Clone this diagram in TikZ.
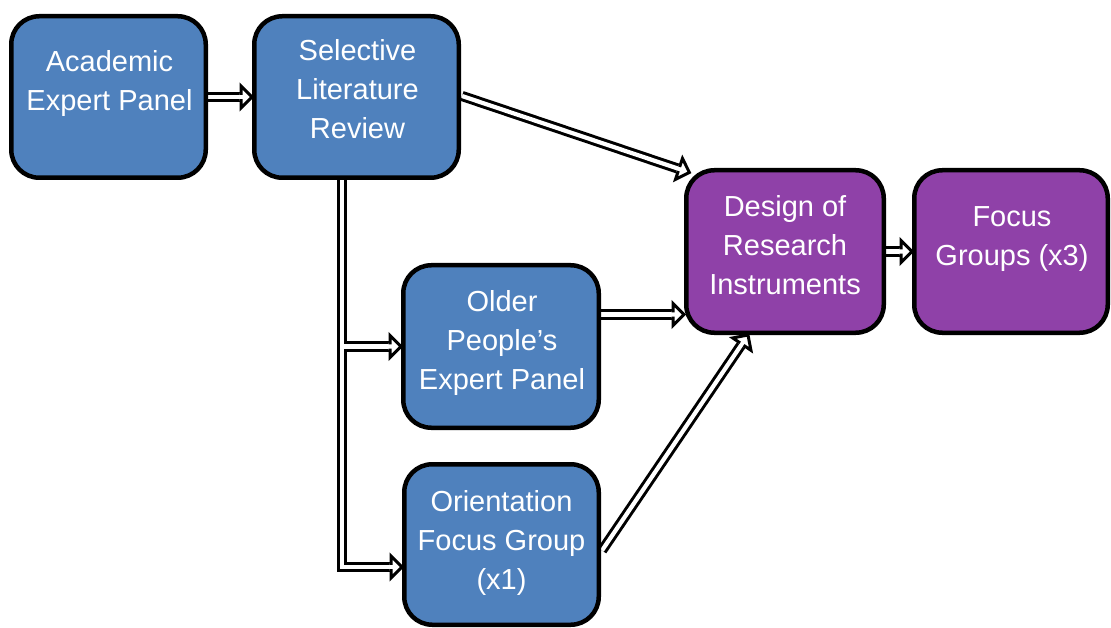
\documentclass[tikz,border=0pt]{standalone}
\usepackage{fontspec}
\setmainfont{Liberation Sans}
\usetikzlibrary{calc,backgrounds}
\definecolor{boxblue}{RGB}{79,129,189}
\definecolor{boxpurple}{RGB}{143,65,168}
\tikzset{
  box/.style={draw=black, line width=4.5pt, rounded corners=28pt, inner sep=0pt},
  bluebox/.style={box, fill=boxblue},
  purplebox/.style={box, fill=boxpurple},
  txt/.style={text=white, align=center, inner sep=0pt, font=\fontsize{29}{39}\selectfont},
  dblline/.style={draw=black, line width=3pt, double=white, double distance=4.2pt},
  headstyle/.style={draw=black, fill=white, line width=3pt, line join=miter},
}
% arrow head only: #1 = a point behind the tip on the shaft, #2 = tip
\newcommand{\ahead}[2]{%
  \coordinate (bp) at ($(#2)!11pt!(#1)$);
  \coordinate (bq) at ($(#2)!12.5pt!(#1)$);
  \filldraw[headstyle] ($(bq)!3.6pt!90:(#2)$) -- ($(bp)!3.6pt!90:(#2)$) -- ($(bp)!11pt!90:(#2)$) -- (#2) -- ($(bp)!11pt!-90:(#2)$) -- ($(bp)!3.6pt!-90:(#2)$) -- ($(bq)!3.6pt!-90:(#2)$);
}
% full block arrow from #1 to #2
\newcommand{\blockarrow}[2]{%
  \draw[dblline] (#1) -- ($(#2)!11pt!(#1)$);
  \ahead{#1}{#2}%
}
\begin{document}
\begin{tikzpicture}[x=1pt,y=-1pt]
\useasboundingbox (0,0) rectangle (1111,628);
% boxes
\node[bluebox, minimum width=194.5pt, minimum height=161.5pt] (aca) at (108.5,97) {};
\node[bluebox, minimum width=204.5pt, minimum height=161.5pt] (sel) at (356.5,97) {};
\node[purplebox, minimum width=197.5pt, minimum height=162.5pt] (des) at (785,251.5) {};
\node[purplebox, minimum width=193.5pt, minimum height=162.5pt] (foc) at (1011,251.5) {};
\node[bluebox, minimum width=195.5pt, minimum height=162.5pt] (old) at (501,346.5) {};
\node[bluebox, minimum width=194.5pt, minimum height=160.5pt] (ori) at (501.5,544.5) {};
% texts
\node[txt] (aca-t) at ($(aca)+(1,-13)$) {Academic\\Expert Panel};
\node[txt] (sel-t) at ($(sel)+(1,-8)$) {Selective\\Literature\\Review};
\node[txt] (des-t) at ($(des)+(0,-6)$) {Design of\\Research\\Instruments};
\node[txt] (foc-t) at ($(foc)+(1,-12)$) {Focus\\Groups (x3)};
\node[txt] (old-t) at ($(old)+(1,-3.5)$) {Older\\People’s\\Expert Panel};
\node[txt] (ori-t) at ($(ori)+(0,-1.5)$) {Orientation\\Focus Group\\(x1)};
% helper coordinates
\coordinate (vx) at (342,0);
\coordinate (vm) at (342,346.5);
\coordinate (vb) at (342,567);
\coordinate (oldout) at ($(old.east)+(0,-32)$);
\coordinate (oriout) at ($(ori.east)+(1,6)$);
\coordinate (selout) at ($(sel.east)+(1,-1)$);
\coordinate (desin) at ($(des.south west)+(64,0)$);
\coordinate (desnw) at ($(des.north west)!7pt!(des.center)$);
\begin{pgfonlayer}{background}
  \blockarrow{aca.east}{sel.west}
  \blockarrow{selout}{desnw}
  \draw[dblline] (vm) -- ($(vm -| old.west)!11pt!(vm)$)
                 (sel.south -| vx) -- (vb) -- ($(vb -| ori.west)!11pt!(vb)$);
  \ahead{vm}{vm -| old.west}
  \ahead{vb}{vb -| ori.west}
  \blockarrow{oldout}{oldout -| des.west}
  \blockarrow{oriout}{desin}
  \blockarrow{des.east}{foc.west}
\end{pgfonlayer}
\end{tikzpicture}
\end{document}
